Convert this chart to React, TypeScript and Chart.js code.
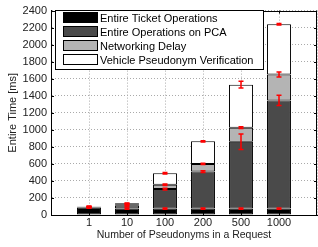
import React, { useEffect, useRef } from 'react';
import { Chart, registerables } from 'chart.js';

Chart.register(...registerables);

const categories = ['1', '10', '100', '200', '500', '1000'];
const seriesNames = [
  'Entire Ticket Operations',
  'Entire Operations on PCA',
  'Networking Delay',
  'Vehicle Pseudonym Verification',
];
const ticketOps = [88, 75, 75, 75, 75, 75];
const pcaOps = [6, 40, 230, 435, 785, 1270];
const networkDelay = [2, 10, 50, 90, 165, 305];
const verification = [3, 12, 135, 265, 505, 590];
const ticketErr = [8, 8, 8, 8, 8, 8];
const pcaErr = [8, 15, 10, 10, 90, 60];
const networkErr = [5, 10, 8, 8, 10, 30];
const verificationErr = [5, 5, 8, 8, 40, 10];
const yMin = 0;
const yMax = 2400;
const yStep = 200;

const FONT_FAMILY = '"Liberation Sans", Arial, Helvetica, sans-serif';
const COLORS = ['#000000', '#4a4a4a', '#b4b4b4', '#ffffff'];

export default function App() {
  const ref = useRef<HTMLCanvasElement>(null);

  useEffect(() => {
    if (!ref.current) return;
    const labels = ['', ...categories, ''];
    const pad = (a: number[]) => [null, ...a, null];
    const series = [ticketOps, pcaOps, networkDelay, verification];
    const errs = [ticketErr, pcaErr, networkErr, verificationErr];
    const font = { family: FONT_FAMILY, size: 11 };

    const framePlugin = {
      id: 'frame',
      afterDatasetsDraw(chart: any) {
        const { ctx, chartArea: a } = chart;
        const xs = chart.scales.x;
        const ys = chart.scales.y;
        ctx.save();
        ctx.strokeStyle = '#000';
        ctx.lineWidth = 1;
        ctx.beginPath();
        ctx.moveTo(a.left, Math.round(a.top) + 0.5);
        ctx.lineTo(a.right, Math.round(a.top) + 0.5);
        ctx.moveTo(Math.round(a.right) - 0.5, a.top);
        ctx.lineTo(Math.round(a.right) - 0.5, a.bottom);
        for (let v = yMin; v <= yMax; v += yStep) {
          const py = Math.round(ys.getPixelForValue(v)) + 0.5;
          ctx.moveTo(a.left, py);
          ctx.lineTo(a.left + 3, py);
          ctx.moveTo(a.right, py);
          ctx.lineTo(a.right - 3, py);
        }
        for (let i = 1; i <= categories.length; i++) {
          const px = Math.round(xs.getPixelForValue(i)) + 0.5;
          ctx.moveTo(px, a.bottom);
          ctx.lineTo(px, a.bottom - 3);
          ctx.moveTo(px, a.top);
          ctx.lineTo(px, a.top + 3);
        }
        ctx.stroke();

        ctx.strokeStyle = '#ff0000';
        ctx.lineWidth = 1.5;
        for (let j = 0; j < categories.length; j++) {
          let cum = 0;
          const px = xs.getPixelForValue(j + 1);
          for (let i = 0; i < series.length; i++) {
            cum += series[i][j];
            const e = errs[i][j];
            const y1 = ys.getPixelForValue(cum - e);
            const y2 = ys.getPixelForValue(cum + e);
            ctx.beginPath();
            ctx.moveTo(px, y1);
            ctx.lineTo(px, y2);
            ctx.moveTo(px - 2.5, y1);
            ctx.lineTo(px + 2.5, y1);
            ctx.moveTo(px - 2.5, y2);
            ctx.lineTo(px + 2.5, y2);
            ctx.stroke();
          }
        }
        ctx.restore();
      },
    };

    const legendPlugin = {
      id: 'boxLegend',
      afterDraw(chart: any) {
        const ctx = chart.ctx;
        const bx = 55.5, by = 10.5, bw = 208, bh = 59;
        ctx.save();
        ctx.fillStyle = '#fff';
        ctx.fillRect(bx, by, bw, bh);
        ctx.strokeStyle = '#000';
        ctx.lineWidth = 1;
        ctx.strokeRect(bx, by, bw, bh);
        ctx.font = `11px ${FONT_FAMILY}`;
        ctx.textBaseline = 'middle';
        ctx.textAlign = 'left';
        chart.data.datasets.forEach((ds: any, i: number) => {
          const cy = 18 + i * 14;
          ctx.fillStyle = ds.backgroundColor;
          ctx.fillRect(63.5, cy - 5.5, 34, 10);
          ctx.strokeStyle = '#000';
          ctx.strokeRect(63.5, cy - 5.5, 34, 10);
          ctx.fillStyle = '#000';
          ctx.fillText(ds.label, 100, cy + 0.5);
        });
        ctx.restore();
      },
    };

    const chart = new Chart(ref.current, {
      type: 'bar',
      data: {
        labels,
        datasets: series.map((s, i) => ({
          label: seriesNames[i],
          data: pad(s),
          backgroundColor: COLORS[i],
          borderColor: '#000',
          borderWidth: 1,
          borderSkipped: false,
        })) as any,
      },
      options: {
        animation: false,
        responsive: false,
        devicePixelRatio: 1,
        layout: { padding: { top: 7, right: 1, left: 0, bottom: 0 } },
        plugins: { legend: { display: false }, tooltip: { enabled: false } },
        datasets: { bar: { categoryPercentage: 1, barPercentage: 0.63 } },
        scales: {
          x: {
            stacked: true,
            offset: false,
            grid: { color: '#aaaaaa', drawTicks: false, offset: false },
            border: { color: '#000', width: 1, dash: [1, 2] },
            ticks: { padding: 1, color: '#222', font, maxRotation: 0, autoSkip: false },
            title: {
              display: true,
              text: 'Number of Pseudonyms in a Request',
              color: '#222',
              font: { family: FONT_FAMILY, size: 10.5 },
              padding: { top: 0, bottom: 6 },
            },
            afterFit: (s: any) => {
              s.height = 32;
            },
          },
          y: {
            stacked: true,
            min: yMin,
            max: yMax,
            grid: { color: '#aaaaaa', drawTicks: false },
            border: { color: '#000', width: 1, dash: [1, 2] },
            ticks: {
              stepSize: yStep,
              padding: 4,
              color: '#222',
              font,
              callback: (v: any) => String(v),
            },
            title: {
              display: true,
              text: 'Entire Time [ms]',
              color: '#222',
              font,
              padding: { top: 6, bottom: 0 },
            },
            afterFit: (s: any) => {
              s.width = 51;
            },
          },
        },
      } as any,
      plugins: [framePlugin, legendPlugin],
    });
    return () => chart.destroy();
  }, []);

  return (
    <canvas
      ref={ref}
      width={318}
      height={247}
      style={{ position: 'absolute', left: 0, top: 0, width: 318, height: 247 }}
    />
  );
}
